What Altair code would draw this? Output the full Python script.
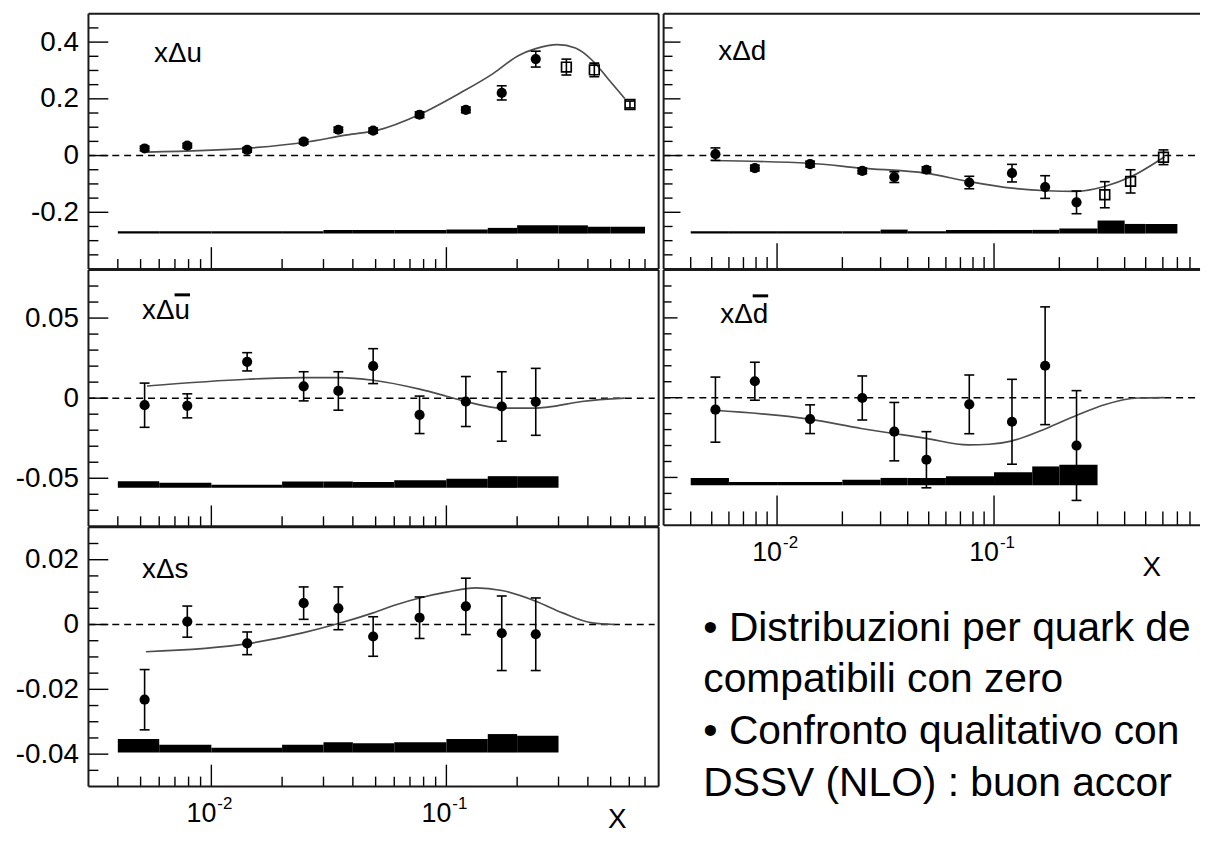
import altair as alt
import pandas as pd

FONT = "Liberation Sans"
INK = "#000000"
FRAME = "#1a1a1a"

# ---------------- data ----------------
# x bin centres (HERMES binning) and systematic-band bin edges
X_PTS = [0.0052, 0.0079, 0.0142, 0.0247, 0.0347, 0.0488, 0.0769, 0.121, 0.172, 0.240, 0.324, 0.426, 0.604]
BIN_LO = [0.004, 0.006, 0.01, 0.02, 0.03, 0.04, 0.06, 0.1, 0.15, 0.2, 0.3, 0.4, 0.5]
BIN_HI = [0.006, 0.01, 0.02, 0.03, 0.04, 0.06, 0.1, 0.15, 0.2, 0.3, 0.4, 0.5, 0.7]

# x axis tick values / labels
X_MINOR = [0.004, 0.005, 0.006, 0.007, 0.008, 0.009,
           0.02, 0.03, 0.04, 0.05, 0.06, 0.07, 0.08, 0.09,
           0.2, 0.3, 0.4, 0.5, 0.6, 0.7, 0.8]
X_MAJOR = [0.01, 0.1]
X_LABEL_BASE = ["10", "10"]
X_LABEL_EXP = ["-2", "-1"]
X_TITLE = "X"

# x Delta u
U_LABEL = "xΔu"
U_VAL = [0.025, 0.035, 0.020, 0.049, 0.091, 0.088, 0.144, 0.161, 0.221, 0.340, 0.312, 0.302, 0.180]
U_ERR = [0.008, 0.008, 0.008, 0.008, 0.009, 0.009, 0.010, 0.010, 0.025, 0.028, 0.028, 0.024, 0.012]
U_OPEN = [False] * 10 + [True] * 3
U_CURVE_X = [0.00532, 0.0143, 0.0247, 0.0379, 0.0507, 0.0769, 0.1135, 0.158, 0.203, 0.240, 0.297, 0.354, 0.417, 0.487, 0.574]
U_CURVE_Y = [0.012, 0.026, 0.046, 0.073, 0.089, 0.145, 0.219, 0.289, 0.353, 0.377, 0.391, 0.379, 0.336, 0.271, 0.201]
U_BAND_TOP = [-0.267, -0.267, -0.267, -0.267, -0.262, -0.262, -0.262, -0.261, -0.255, -0.246, -0.246, -0.251, -0.251]
U_BAND_BASE = -0.275
U_YDOM = [-0.4, 0.5]
U_YMAJ = [-0.2, 0, 0.2, 0.4]
U_YMIN = [-0.35, -0.3, -0.25, -0.15, -0.1, -0.05, 0.05, 0.1, 0.15, 0.25, 0.3, 0.35, 0.45]

# x Delta d
D_LABEL = "xΔd"
D_VAL = [0.005, -0.044, -0.030, -0.054, -0.076, -0.050, -0.095, -0.062, -0.111, -0.165, -0.138, -0.091, -0.006]
D_ERR = [0.022, 0.010, 0.010, 0.010, 0.019, 0.010, 0.022, 0.031, 0.040, 0.040, 0.046, 0.041, 0.026]
D_OPEN = [False] * 10 + [True] * 3
D_CURVE_X = [0.00497, 0.0141, 0.0244, 0.0485, 0.0761, 0.121, 0.174, 0.24, 0.323, 0.429, 0.611]
D_CURVE_Y = [-0.0175, -0.027, -0.044, -0.062, -0.091, -0.115, -0.124, -0.126, -0.109, -0.074, -0.004]
D_BAND_TOP = [-0.267, -0.267, -0.267, -0.267, -0.261, -0.267, -0.262, -0.262, -0.262, -0.257, -0.229, -0.241, -0.241]
D_BAND_BASE = -0.275

# x Delta u-bar
UB_LABEL = "xΔu"
UB_VAL = [-0.0044, -0.0048, 0.0227, 0.0074, 0.0045, 0.020, -0.0104, -0.0021, -0.0052, -0.0023]
UB_ERR = [0.0138, 0.0075, 0.0057, 0.0091, 0.012, 0.0109, 0.0117, 0.0156, 0.0217, 0.0209]
UB_OPEN = [False] * 10
UB_CURVE_X = [0.00532, 0.0143, 0.0247, 0.0347, 0.0488, 0.0769, 0.1, 0.121, 0.172, 0.240, 0.270, 0.377, 0.574]
UB_CURVE_Y = [0.0076, 0.0118, 0.0128, 0.0128, 0.0112, 0.0056, 0.0012, -0.0021, -0.0062, -0.0062, -0.0056, -0.0021, 0.0]
UB_BAND_TOP = [-0.0518, -0.0528, -0.0540, -0.0521, -0.0521, -0.0523, -0.0512, -0.0503, -0.0487, -0.0487]
UB_BAND_BASE = -0.056
SEA_YDOM = [-0.08, 0.08]
SEA_YMAJ = [-0.05, 0, 0.05]
SEA_YMIN = [-0.07, -0.06, -0.04, -0.03, -0.02, -0.01, 0.01, 0.02, 0.03, 0.04, 0.06, 0.07]

# x Delta d-bar
DB_LABEL = "xΔd"
DB_VAL = [-0.0075, 0.0103, -0.0135, -0.0002, -0.0213, -0.0389, -0.0042, -0.0151, 0.0200, -0.0300]
DB_ERR = [0.0204, 0.0119, 0.0090, 0.0138, 0.0183, 0.0176, 0.0184, 0.0266, 0.0369, 0.0344]
DB_OPEN = [False] * 10
DB_CURVE_X = [0.00513, 0.0141, 0.0244, 0.0485, 0.0761, 0.0952, 0.120, 0.174, 0.241, 0.323, 0.46, 0.61]
DB_CURVE_Y = [-0.0079, -0.0135, -0.0193, -0.0255, -0.0296, -0.0292, -0.0272, -0.0193, -0.0110, -0.0044, -0.0002, 0.0]
DB_BAND_TOP = [-0.0503, -0.0528, -0.0528, -0.0514, -0.0503, -0.0503, -0.0493, -0.0468, -0.0431, -0.0421]
DB_BAND_BASE = -0.0549

# x Delta s
S_LABEL = "xΔs"
S_VAL = [-0.0232, 0.0009, -0.0058, 0.0066, 0.0050, -0.0037, 0.0021, 0.0056, -0.0027, -0.0030]
S_ERR = [0.0093, 0.0048, 0.0035, 0.0050, 0.0066, 0.0061, 0.0064, 0.0087, 0.0115, 0.0112]
S_OPEN = [False] * 10
S_CURVE_X = [0.00527, 0.0143, 0.0247, 0.0347, 0.0488, 0.0616, 0.0769, 0.1, 0.134, 0.172, 0.240, 0.312, 0.417, 0.520]
S_CURVE_Y = [-0.0084, -0.0059, -0.0025, 0.0003, 0.0036, 0.0062, 0.0082, 0.0100, 0.0113, 0.0105, 0.0072, 0.0036, 0.0005, 0.0]
S_BAND_TOP = [-0.0353, -0.0371, -0.0380, -0.0371, -0.0363, -0.0366, -0.0363, -0.0353, -0.0338, -0.0343]
S_BAND_BASE = -0.0395
S_YDOM = [-0.05, 0.03]
S_YMAJ = [-0.04, -0.02, 0, 0.02]
S_YMIN = [-0.045, -0.035, -0.03, -0.025, -0.015, -0.01, -0.005, 0.005, 0.01, 0.015, 0.025]

BULLETS = ["• Distribuzioni per quark del mare",
           "compatibili con zero",
           "• Confronto qualitativo con",
           "DSSV (NLO) : buon accordo"]

X_DOM_LEFT = [0.003, 0.8]
X_DOM_RIGHT = [0.003, 0.89]

TICK_FS = 28
LAB_FS = 28


def build(D, L):
    w, h = L["w"], L["h"]
    xsc = alt.Scale(type="log", domain=L["xdom"], nice=False)
    ysc = alt.Scale(domain=D["ydom"], nice=False, zero=False)
    if L["ylabels"]:
        yax = alt.Axis(values=D["ymaj"], ticks=False, domain=False, grid=False,
                       labelFont=FONT, labelFontSize=TICK_FS, labelColor=INK,
                       labelPadding=10, labelOverlap=False,
                       labelExpr="'' + datum.value", title=None)
    else:
        yax = None

    def X(f):
        return alt.X(f, type="quantitative", scale=xsc, axis=None)

    def Y(f):
        return alt.Y(f, type="quantitative", scale=ysc, axis=yax)

    n = len(D["vals"])
    one = pd.DataFrame({"k": [0]})
    layers = []

    band_df = pd.DataFrame({"lo": BIN_LO[:n], "hi": BIN_HI[:n],
                            "top": D["btop"], "base": [D["bbase"]] * n})
    layers.append(alt.Chart(band_df).mark_rect(color=INK).encode(
        x=X("lo"), x2=alt.X2("hi"), y=Y("base"), y2=alt.Y2("top")))

    zero_df = pd.DataFrame({"v": [0.0]})
    layers.append(alt.Chart(zero_df).mark_rule(color=INK, strokeWidth=1.5, strokeDash=[7, 5]).encode(
        y=Y("v"), x=alt.value(0), x2=alt.value(L["zx2"])))

    curve_df = pd.DataFrame({"x": D["cx"], "y": D["cy"]})
    layers.append(alt.Chart(curve_df).mark_line(color="#4d4d4d", strokeWidth=1.7, interpolate="monotone").encode(
        x=X("x"), y=Y("y")))

    pts = pd.DataFrame({"x": X_PTS[:n], "v": D["vals"], "e": D["errs"], "open": D["open"]})
    pts["lo"] = pts["v"] - pts["e"]
    pts["hi"] = pts["v"] + pts["e"]
    layers.append(alt.Chart(pts).mark_rule(color=INK, strokeWidth=1.6).encode(
        x=X("x"), y=Y("lo"), y2=alt.Y2("hi")))
    for end in ("lo", "hi"):
        layers.append(alt.Chart(pts).mark_tick(orient="horizontal", color=INK, size=10,
                                               thickness=1.6, opacity=1).encode(x=X("x"), y=Y(end)))
    closed = pts[~pts["open"]]
    layers.append(alt.Chart(closed).mark_point(shape="circle", filled=True, color=INK,
                                               size=105, opacity=1).encode(x=X("x"), y=Y("v")))
    opened = pts[pts["open"]]
    if len(opened):
        layers.append(alt.Chart(opened).mark_point(shape="square", filled=False, color=INK, size=95,
                                                   strokeWidth=1.7, opacity=1).encode(x=X("x"), y=Y("v")))

    # inner tick marks
    ymj, ymn = L["ytl"]
    layers.append(alt.Chart(pd.DataFrame({"v": D["ymaj"]})).mark_rule(color=INK, strokeWidth=1.4).encode(
        y=Y("v"), x=alt.value(0), x2=alt.value(ymj)))
    layers.append(alt.Chart(pd.DataFrame({"v": D["ymin"]})).mark_rule(color=INK, strokeWidth=1.4).encode(
        y=Y("v"), x=alt.value(0), x2=alt.value(ymn)))
    xmj, xmn = L["xtl"]
    xminor = [t for t in X_MINOR if t < L["xdom"][1] * 0.999]
    layers.append(alt.Chart(pd.DataFrame({"x": X_MAJOR})).mark_rule(color=INK, strokeWidth=1.4).encode(
        x=X("x"), y=alt.value(h), y2=alt.value(h - xmj)))
    layers.append(alt.Chart(pd.DataFrame({"x": xminor})).mark_rule(color=INK, strokeWidth=1.4).encode(
        x=X("x"), y=alt.value(h), y2=alt.value(h - xmn)))

    # frame
    def rule(**enc):
        return alt.Chart(one).mark_rule(color=FRAME, strokeWidth=2).encode(**enc)

    layers.append(rule(x=alt.value(0), x2=alt.value(w), y=alt.value(0)))
    layers.append(rule(x=alt.value(0), x2=alt.value(w), y=alt.value(h)))
    layers.append(rule(x=alt.value(0), y=alt.value(0), y2=alt.value(h)))
    if L["right_frame"]:
        layers.append(rule(x=alt.value(w), y=alt.value(0), y2=alt.value(h)))

    # panel label
    layers.append(alt.Chart(one).mark_text(align="left", baseline="alphabetic", font=FONT,
                                           fontSize=LAB_FS, color=INK).encode(
        x=alt.value(L["lx"]), y=alt.value(L["ly"]), text=alt.value(D["label"])))
    if "bar" in L:
        bx1, bx2, by = L["bar"]
        layers.append(alt.Chart(one).mark_rule(color=INK, strokeWidth=3).encode(
            x=alt.value(bx1), x2=alt.value(bx2), y=alt.value(by)))

    # x axis labels
    if L["xlabels"]:
        xl = pd.DataFrame({"x": X_MAJOR, "b": X_LABEL_BASE, "e": X_LABEL_EXP})
        layers.append(alt.Chart(xl).mark_text(align="right", baseline="alphabetic", font=FONT,
                                              fontSize=27, color=INK, dx=5).encode(
            x=X("x"), y=alt.value(h + 36), text="b:N"))
        layers.append(alt.Chart(xl).mark_text(align="left", baseline="alphabetic", font=FONT,
                                              fontSize=17, color=INK, dx=6).encode(
            x=X("x"), y=alt.value(h + 23), text="e:N"))
        tx, ty = L["xtitle"]
        layers.append(alt.Chart(one).mark_text(align="left", baseline="alphabetic", font=FONT,
                                               fontSize=28, color=INK).encode(
            x=alt.value(tx), y=alt.value(ty), text=alt.value(X_TITLE)))
    return alt.layer(*layers).properties(width=w, height=h)


WL, WR = 574, 540
XD_W = (0.5 + 0.667) * LAB_FS   # width of "xΔ"
U_W = 0.556 * LAB_FS             # width of "u" / "d"

p_u = build(dict(label=U_LABEL, vals=U_VAL, errs=U_ERR, open=U_OPEN, cx=U_CURVE_X, cy=U_CURVE_Y,
                 btop=U_BAND_TOP, bbase=U_BAND_BASE, ydom=U_YDOM, ymaj=U_YMAJ, ymin=U_YMIN),
            dict(w=WL, h=257, xdom=X_DOM_LEFT, ylabels=True, xlabels=False, right_frame=True,
                 zx2=WL - 4, ytl=(20, 10), xtl=(22, 10), lx=66, ly=49))
p_d = build(dict(label=D_LABEL, vals=D_VAL, errs=D_ERR, open=D_OPEN, cx=D_CURVE_X, cy=D_CURVE_Y,
                 btop=D_BAND_TOP, bbase=D_BAND_BASE, ydom=U_YDOM, ymaj=U_YMAJ, ymin=U_YMIN),
            dict(w=WR, h=257, xdom=X_DOM_RIGHT, ylabels=False, xlabels=False, right_frame=False,
                 zx2=WR, ytl=(17, 9), xtl=(26, 12), lx=55, ly=47))
p_ub = build(dict(label=UB_LABEL, vals=UB_VAL, errs=UB_ERR, open=UB_OPEN, cx=UB_CURVE_X, cy=UB_CURVE_Y,
                  btop=UB_BAND_TOP, bbase=UB_BAND_BASE, ydom=SEA_YDOM, ymaj=SEA_YMAJ, ymin=SEA_YMIN),
             dict(w=WL, h=258, xdom=X_DOM_LEFT, ylabels=True, xlabels=False, right_frame=True,
                  zx2=WL - 4, ytl=(20, 10), xtl=(21, 10), lx=54, ly=49,
                  bar=(54 + XD_W, 54 + XD_W + U_W, 25)))
p_db = build(dict(label=DB_LABEL, vals=DB_VAL, errs=DB_ERR, open=DB_OPEN, cx=DB_CURVE_X, cy=DB_CURVE_Y,
                  btop=DB_BAND_TOP, bbase=DB_BAND_BASE, ydom=SEA_YDOM, ymaj=SEA_YMAJ, ymin=SEA_YMIN),
             dict(w=WR, h=257, xdom=X_DOM_RIGHT, ylabels=False, xlabels=True, right_frame=False,
                  zx2=WR, ytl=(14, 8), xtl=(30, 14), lx=57, ly=53,
                  bar=(57 + XD_W, 57 + XD_W + U_W, 26), xtitle=(482, 257 + 51)))
p_s = build(dict(label=S_LABEL, vals=S_VAL, errs=S_ERR, open=S_OPEN, cx=S_CURVE_X, cy=S_CURVE_Y,
                 btop=S_BAND_TOP, bbase=S_BAND_BASE, ydom=S_YDOM, ymaj=S_YMAJ, ymin=S_YMIN),
            dict(w=WL, h=261, xdom=X_DOM_LEFT, ylabels=True, xlabels=True, right_frame=True,
                 zx2=WL - 4, ytl=(20, 10), xtl=(22, 10), lx=54, ly=51, xtitle=(523, 261 + 42)))

text_df = pd.DataFrame({"i": list(range(len(BULLETS))), "t": BULLETS})
txt = alt.Chart(text_df).mark_text(align="left", baseline="alphabetic", font=FONT, fontSize=41,
                                   color=INK, limit=503, ellipsis=" ").encode(
    x=alt.value(40),
    y=alt.Y("i:O", axis=None, scale=alt.Scale(type="point", range=[114, 270], padding=0)),
    text="t:N",
).properties(width=WR, height=261)

chart = alt.concat(p_u, p_d, p_ub, p_db, p_s, txt, columns=2,
                   spacing={"row": 1, "column": 5}, bounds="flush").properties(
    padding={"left": 7, "top": 2, "right": 0, "bottom": 0},
    background="white",
).configure_view(strokeWidth=0)

chart.save("out.html", embed_options={"renderer": "svg", "actions": False})
